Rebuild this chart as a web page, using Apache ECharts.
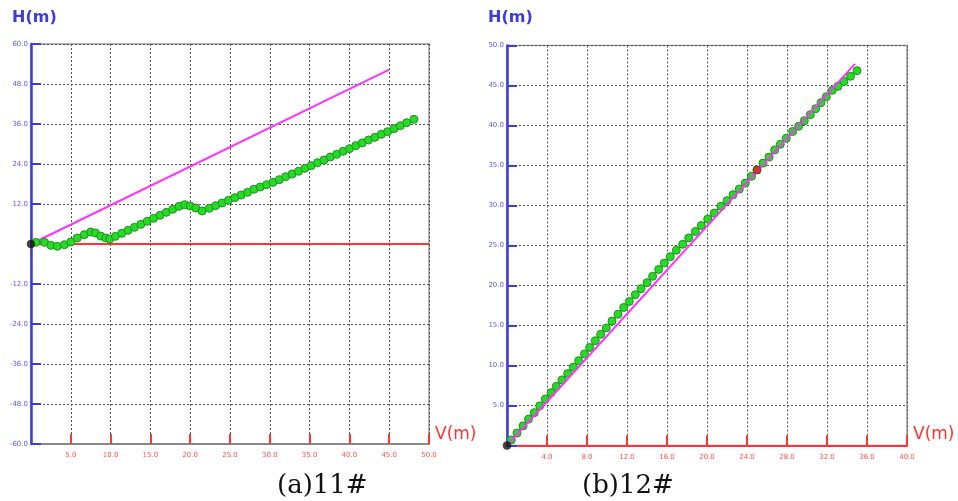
<!DOCTYPE html>
<html>
<head>
<meta charset="utf-8">
<script src="https://cdn.jsdelivr.net/npm/echarts@6/dist/echarts.min.js"></script>
<style>html,body{margin:0;padding:0;background:#fff;}#c{width:958px;height:501px;}</style>
</head>
<body>
<div id="c"></div>
<script>
// ---- Chart (a) 11# ----
const leftXTicks = [0, 5, 10, 15, 20, 25, 30, 35, 40, 45, 50];
const leftYTicks = [-60, -48, -36, -24, -12, 0, 12, 24, 36, 48, 60];
const leftDesign = [[0, 0], [45, 52.3]];
const leftBase = [[0, 0], [50, 0]];
const leftOrigin = [[0, 0]];
const leftMeasured = [
  [0.6,0.5],[1.7,0.5],[2.5,-0.4],[3.3,-0.7],[4.2,-0.2],[5.0,0.6],[5.8,1.8],[6.7,2.8],[7.5,3.6],
  [8.1,3.3],[8.75,2.4],[9.4,1.8],[9.9,1.5],[10.6,2.3],[11.4,3.2],[12.2,4.1],[13.0,5.0],[13.8,5.9],
  [14.6,6.8],[15.4,7.7],[16.2,8.6],[17.0,9.5],[17.8,10.4],[18.6,11.3],[19.3,11.8],[20.0,11.4],
  [20.7,10.8],[21.5,9.9],[22.4,10.7],[23.2,11.5],[24.0,12.3],[24.8,13.1],[25.6,13.9],[26.4,14.7],
  [27.2,15.5],[28.0,16.4],[28.8,17.1],[29.6,17.8],[30.4,18.5],[31.2,19.3],[32.0,20.2],[32.8,21.0],
  [33.6,21.8],[34.4,22.7],[35.2,23.5],[36.0,24.4],[36.8,25.2],[37.6,26.1],[38.4,26.9],[39.2,27.8],
  [40.0,28.6],[40.8,29.5],[41.6,30.3],[42.4,31.2],[43.2,32.0],[44.0,32.9],[44.8,33.7],[45.6,34.6],
  [46.4,35.5],[47.2,36.4],[48.1,37.4]
];

// ---- Chart (b) 12# ----
const rightXTicks = [0, 4, 8, 12, 16, 20, 24, 28, 32, 36, 40];
const rightYTicks = [0, 5, 10, 15, 20, 25, 30, 35, 40, 45, 50];
const rightDesign = [[0, 0], [34.8, 47.7]];
const rightOrigin = [[0, 0]];
const rightMarked = [[25.0, 34.45]];
const rightMeasured = [
  [0.43,0.7],[1.0,1.55],[1.6,2.45],[2.15,3.3],[2.72,4.1],[3.27,4.95],[3.83,5.8],[4.4,6.6],[4.93,7.4],
  [5.5,8.2],[6.07,9.0],[6.63,9.8],[7.17,10.6],[7.75,11.45],[8.27,12.25],[8.83,13.1],[9.37,13.9],
  [9.93,14.7],[10.5,15.55],[11.1,16.4],[11.67,17.25],[12.23,18.0],[12.83,18.85],[13.4,19.6],
  [14.0,20.35],[14.56,21.15],[15.17,22.0],[15.73,22.8],[16.33,23.6],[16.93,24.4],[17.57,25.15],
  [18.17,25.95],[18.83,26.75],[19.43,27.5],[20.07,28.3],[20.73,29.05],[21.4,29.9],[22.0,30.6],
  [22.6,31.35],[23.23,32.05],[23.83,32.8],[24.45,33.65],[25.0,34.45],[25.6,35.3],[26.2,36.05],
  [26.77,36.95],[27.33,37.65],[27.93,38.4],[28.56,39.25],[29.16,39.9],[29.73,40.6],[30.33,41.35],
  [30.87,42.1],[31.4,42.85],[31.93,43.6],[32.53,44.4],[33.1,44.9],[33.7,45.5],[34.35,46.15],[35.0,46.85]
];

const captions = ['(a)11#', '(b)12#'];
const axisNames = ['H(m)', 'V(m)'];

const BLUE = '#3b3bdf', RED = '#ff3333', MAG = '#ff33ff';
const GREEN = '#22dd22', GREEN_B = '#2a8a2a';

function fmt(v){ return v === 0 ? '' : v.toFixed(1); }

function xAxis(idx, ticks, lineColor){
  return {
    type: 'value', gridIndex: idx,
    min: ticks[0], max: ticks[ticks.length-1], interval: ticks[1]-ticks[0],
    axisLine: {show: true, onZero: false, lineStyle: {color: lineColor, width: 2}},
    axisTick: {show: true, inside: true, length: 10, lineStyle: {color: RED, width: 2}},
    axisLabel: {formatter: fmt, color: '#ff5050', fontSize: 7, fontFamily: 'DejaVu Sans', margin: 8, showMinLabel: false},
    splitLine: {show: true, lineStyle: {color: '#555', width: 1, type: [2, 2]}}
  };
}
function yAxis(idx, ticks){
  return {
    type: 'value', gridIndex: idx,
    min: ticks[0], max: ticks[ticks.length-1], interval: ticks[1]-ticks[0],
    axisLine: {show: true, onZero: false, lineStyle: {color: BLUE, width: 2.5}},
    axisTick: {show: true, inside: true, length: 10, lineStyle: {color: BLUE, width: 2}},
    axisLabel: {formatter: fmt, color: '#5a5aee', fontSize: 7, fontFamily: 'DejaVu Sans', margin: 3},
    splitLine: {show: true, lineStyle: {color: '#555', width: 1, type: [2, 2]}}
  };
}
function greenSeries(idx, data, lw){
  return {
    type: 'line', xAxisIndex: idx, yAxisIndex: idx, data: data,
    symbol: 'circle', symbolSize: 8, showSymbol: true, z: 3,
    lineStyle: {color: '#1fc01f', width: lw},
    itemStyle: {color: GREEN, borderColor: GREEN_B, borderWidth: 1},
    animation: false
  };
}
function simpleLine(idx, data, color, w, z){
  return {type: 'line', xAxisIndex: idx, yAxisIndex: idx, data: data, symbol: 'none',
    lineStyle: {color: color, width: w}, z: z, animation: false};
}
function dot(idx, data, color){
  return {type: 'scatter', xAxisIndex: idx, yAxisIndex: idx, data: data, symbolSize: 8,
    itemStyle: {color: color, borderColor: '#222', borderWidth: 0.5}, z: 5, animation: false};
}

const chart = echarts.init(document.getElementById('c'), null, {renderer: 'canvas'});
chart.setOption({
  backgroundColor: '#fff',
  animation: false,
  grid: [
    {left: 31, top: 44, width: 398, height: 400, show: true, borderColor: '#999', borderWidth: 1.5, backgroundColor: '#fff'},
    {left: 507, top: 45.5, width: 400, height: 400, show: true, borderColor: '#999', borderWidth: 1.5, backgroundColor: '#fff'}
  ],
  xAxis: [xAxis(0, leftXTicks, '#888'), xAxis(1, rightXTicks, RED)],
  yAxis: [yAxis(0, leftYTicks), yAxis(1, rightYTicks)],
  series: [
    simpleLine(0, leftBase, RED, 2, 2),
    simpleLine(0, leftDesign, MAG, 2, 2),
    greenSeries(0, leftMeasured, 3),
    dot(0, leftOrigin, '#111'),
    greenSeries(1, rightMeasured, 1.5),
    simpleLine(1, rightDesign, MAG, 2, 4),
    dot(1, rightMarked, '#dd2222'),
    dot(1, rightOrigin, '#111')
  ],
  graphic: [
    {type: 'text', left: 12, top: 10, style: {text: axisNames[0], fill: BLUE, font: 'bold 16px "DejaVu Sans"'}},
    {type: 'text', left: 488, top: 10, style: {text: axisNames[0], fill: BLUE, font: 'bold 16px "DejaVu Sans"'}},
    {type: 'text', left: 435, top: 426, style: {text: axisNames[1], fill: RED, font: '17px "DejaVu Sans"'}},
    {type: 'text', left: 913, top: 426, style: {text: axisNames[1], fill: RED, font: '17px "DejaVu Sans"'}},
    {type: 'text', left: 277, top: 473, style: {text: captions[0], fill: '#111', font: '26px "DejaVu Serif"'}},
    {type: 'text', left: 582, top: 473, style: {text: captions[1], fill: '#111', font: '26px "DejaVu Serif"'}}
  ]
});
</script>
</body>
</html>
